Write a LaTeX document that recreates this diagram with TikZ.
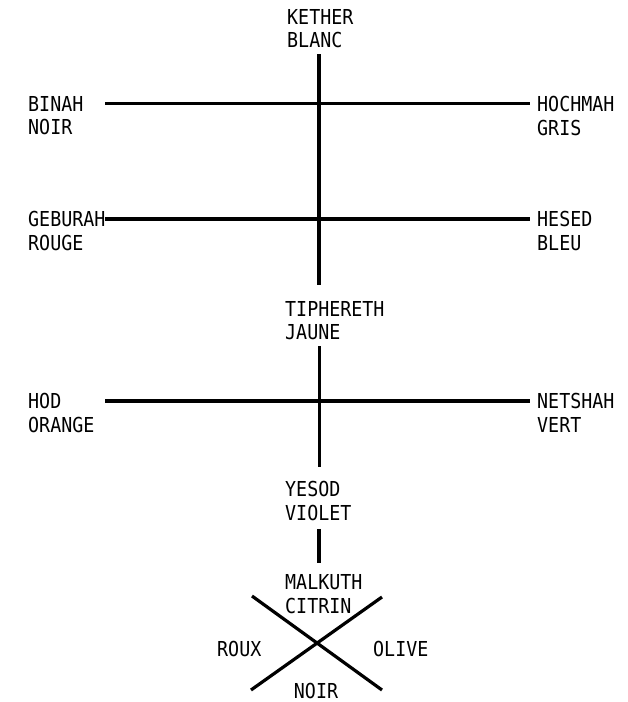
\documentclass[tikz,border=0pt]{standalone}
\usepackage{fontspec}
\setmonofont[FakeStretch=0.89]{DejaVu Sans Mono}
\usepackage{tikz}
\usetikzlibrary{positioning}

\begin{document}
\begin{tikzpicture}[x=1pt, y=-1pt,
        lab/.style={inner sep=0pt, anchor=north west, font=\fontsize{20.6}{23}\ttfamily},
        col/.style={lab, below=8pt of #1.south west, anchor=north west},
        bar/.style={line width=3.2pt},
        stem/.style={line width=4.4pt}]
        \useasboundingbox (0,0) rectangle (627,702);
        \coordinate (axis) at (319,0);
        \coordinate (lft) at (105,0);
        \coordinate (rgt) at (530,0);
        % column labels
        \node[lab] (kether) at (287,9) {KETHER};
        \node[col=kether] (ketherc) {BLANC};
        \node[lab] (binah) at (28,96) {BINAH};
        \node[col=binah] (binahc) {NOIR};
        \node[lab] (hochmah) at (537,96) {HOCHMAH};
        \node[col=hochmah] (hochmahc) {GRIS};
        \node[lab] (geburah) at (28,211) {GEBURAH};
        \node[col=geburah] (geburahc) {ROUGE};
        \node[lab] (hesed) at (537,211) {HESED};
        \node[col=hesed] (hesedc) {BLEU};
        \node[lab] (tiphereth) at (285,301) {TIPHERETH};
        \node[col=tiphereth] (tipherethc) {JAUNE};
        \node[lab] (hod) at (28,393) {HOD};
        \node[col=hod] (hodc) {ORANGE};
        \node[lab] (netshah) at (537,393) {NETSHAH};
        \node[col=netshah] (netshahc) {VERT};
        \node[lab] (yesod) at (285,481) {YESOD};
        \node[col=yesod] (yesodc) {VIOLET};
        \node[lab] (malkuth) at (285,574) {MALKUTH};
        \node[col=malkuth] (malkuthc) {CITRIN};
        \node[lab] (roux) at (217,641) {ROUX};
        \node[lab] (olive) at (373,641) {OLIVE};
        \node[lab, anchor=north] (noir) at (316,683) {NOIR};
        % the middle pillar
        \draw[stem, shorten <=6pt, shorten >=16pt] (ketherc.south -| axis) -- (tiphereth.north -| axis);
        \draw[stem, line width=3pt, shorten <=6pt, shorten >=14pt] (tipherethc.south -| axis) -- (yesod.north -| axis);
        \draw[stem, shorten <=8pt, shorten >=11pt] (yesodc.south -| axis) -- (malkuth.north -| axis);
        % cross bars
        \draw[bar] (binah -| lft) -- (binah -| rgt);
        \draw[bar] (geburah -| lft) -- (geburah -| rgt);
        \draw[bar] (hod -| lft) -- (hod -| rgt);
        % the cross under malkuth
        \coordinate (xa) at (252,596);
        \coordinate (xb) at (382,690);
        \coordinate (xc) at (382,597);
        \coordinate (xd) at (251,690);
        \draw[bar] (xa) -- (xb);
        \draw[bar] (xc) -- (xd);
    \end{tikzpicture}
\end{document}
